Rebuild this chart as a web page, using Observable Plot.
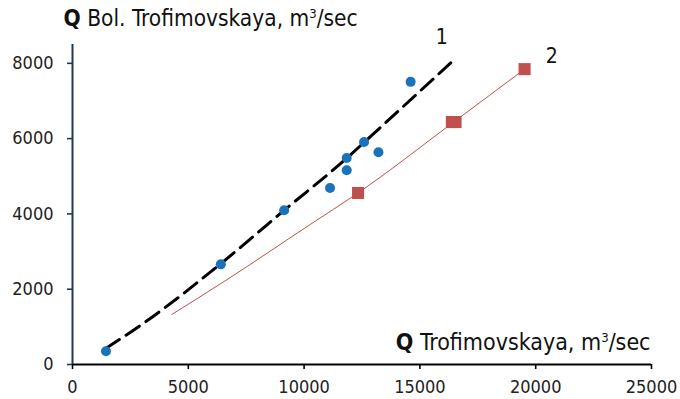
<!DOCTYPE html>
<html>
<head>
<meta charset="utf-8">
<script src="https://cdn.jsdelivr.net/npm/d3@7"></script>
<script src="https://cdn.jsdelivr.net/npm/@observablehq/plot@0.6"></script>
<style>
  html, body { margin: 0; padding: 0; background: #fff; }
</style>
</head>
<body>
<div id="chart"></div>
<script>
// Observed points, series 1 (blue circles)
const blueX = [1445, 6406, 9140, 11120, 11840, 11840, 12590, 13210, 14600];
const blueY = [354, 2660, 4096, 4690, 5487, 5160, 5912, 5638, 7508];
// Observed points, series 2 (red squares)
const redX = [12330, 16380, 16540, 19520];
const redY = [4556, 6440, 6440, 7846];
// Curve 1 (dashed black)
const line1X = [1450, 3100, 6406, 9140, 11840, 12590, 16540];
const line1Y = [430, 1110, 2680, 4096, 5480, 5900, 8130];
// Curve 2 (thin red)
const line2X = [4290, 6620, 10215, 12330, 16460, 19520];
const line2Y = [1330, 2234, 3700, 4556, 6440, 7846];
// Curve labels
const labelText = ["1", "2"];
const labelX = [15940, 20690];
const labelY = [8697, 8191];
// Axes
const xTicks = [0, 5000, 10000, 15000, 20000, 25000];
const yTicks = [0, 2000, 4000, 6000, 8000];
const yTitle = "Q Bol. Trofimovskaya, m3/sec";
const xTitle = "Q Trofimovskaya, m3/sec";

const blue = blueX.map((x, i) => ({x, y: blueY[i]}));
const red = redX.map((x, i) => ({x, y: redY[i]}));
const line1 = line1X.map((x, i) => ({x, y: line1Y[i]}));
const line2 = line2X.map((x, i) => ({x, y: line2Y[i]}));
const labels = labelText.map((t, i) => ({t, x: labelX[i], y: labelY[i]}));

const font = "'DejaVu Sans Condensed', 'DejaVu Sans', sans-serif";

const chart = Plot.plot({
  width: 680,
  height: 399,
  marginLeft: 72,
  marginRight: 29,
  marginTop: 44,
  marginBottom: 35,
  style: {fontFamily: font, fontSize: "18px", background: "#fff", color: "#222", overflow: "visible"},
  x: {domain: [0, 25000]},
  y: {domain: [0, 8500]},
  marks: [
    Plot.axisX({ticks: xTicks, tickFormat: "d", tickSize: 5, tickPadding: 11, label: null, stroke: "#000", strokeWidth: 1.6, fill: "#222", fontSize: 18}),
    Plot.axisY({ticks: yTicks, tickFormat: "d", tickSize: 5, tickPadding: 14, label: null, stroke: "#1c3a5e", strokeWidth: 1.6, fill: "#222", fontSize: 18}),
    Plot.ruleY([0], {stroke: "#000", strokeWidth: 2}),
    Plot.ruleX([0], {stroke: "#1c3a5e", strokeWidth: 2}),
    Plot.line(line2, {x: "x", y: "y", stroke: "#c0504d", strokeWidth: 1, curve: "monotone-x"}),
    Plot.line(line1, {x: "x", y: "y", stroke: "#000", strokeWidth: 3, strokeDasharray: "16,8", curve: "monotone-x"}),
    Plot.dot(blue, {x: "x", y: "y", r: 5, fill: "#1a72bb", stroke: null}),
    Plot.dot(red, {x: "x", y: "y", r: 6.8, symbol: "square", fill: "#c0504d", stroke: null}),
    Plot.text(labels, {x: "x", y: "y", text: "t", fontSize: 21, fill: "#111"}),
    Plot.text([yTitle], {frameAnchor: "top-left", text: d => d, textAnchor: "start", lineAnchor: "middle", dx: -9, dy: -26, fontSize: 22.5, fill: "#111", className: "ytitle"}),
    Plot.text([xTitle], {frameAnchor: "bottom-right", text: d => d, textAnchor: "end", lineAnchor: "middle", dx: -1, dy: -22, fontSize: 23, fill: "#111", className: "xtitle"})
  ]
});

document.getElementById("chart").appendChild(chart);

// Rich formatting for titles: bold Q and superscript 3
function richify(sel) {
  d3.select(chart).selectAll(sel + " text").each(function() {
    const t = d3.select(this);
    const s = t.text();
    const m = s.match(/^Q (.*)m3\/sec$/);
    if (!m) return;
    t.text(null);
    t.append("tspan").attr("font-weight", "bold").text("Q");
    t.append("tspan").text(" " + m[1] + "m");
    t.append("tspan").attr("font-size", 13).attr("dy", -8).text("3");
    t.append("tspan").attr("dy", 8).text("/sec");
  });
}
richify(".ytitle");
richify(".xtitle");
</script>
</body>
</html>
